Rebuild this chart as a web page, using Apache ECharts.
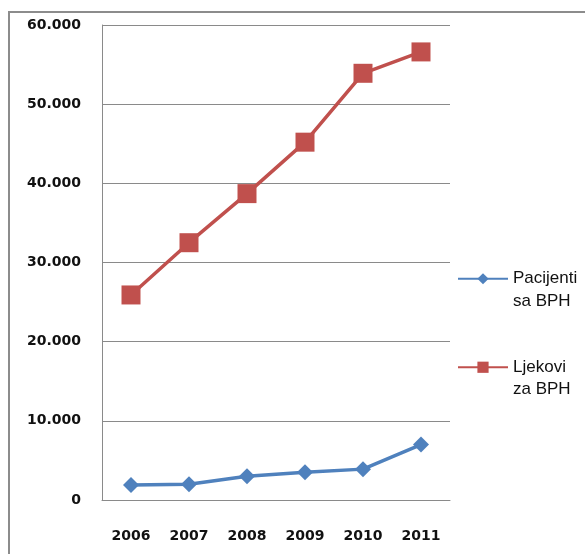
<!DOCTYPE html>
<html>
<head>
<meta charset="utf-8">
<script src="https://cdn.jsdelivr.net/npm/echarts@6/dist/echarts.min.js"></script>
<style>
  html, body { margin: 0; padding: 0; background: #fff; }
  #chart { width: 585px; height: 554px; }
</style>
</head>
<body>
<div id="chart"></div>
<script>
// Years on the category axis
const years = ['2006', '2007', '2008', '2009', '2010', '2011'];
// Patients with BPH
const pacijenti = [1900, 2000, 3000, 3500, 3900, 7000];
// Medication packages for BPH
const ljekovi = [25900, 32500, 38700, 45200, 53900, 56600];
// Value axis range
const yMin = 0, yMax = 60000, yStep = 10000;

const chart = echarts.init(document.getElementById('chart'), null, { renderer: 'canvas' });

const fmtThousands = v => v === 0 ? '0' : String(v).replace(/\B(?=(\d{3})+(?!\d))/g, '.');

chart.setOption({
  backgroundColor: '#ffffff',
  animation: false,
  grid: { left: 102, top: 25, right: 135, bottom: 54, containLabel: false },
  xAxis: {
    type: 'category',
    data: years,
    boundaryGap: true,
    axisLine: { show: true, lineStyle: { color: '#8a8a8a', width: 1 } },
    axisTick: { show: false },
    axisLabel: {
      margin: 29,
      color: '#111',
      fontFamily: 'DejaVu Sans',
      fontWeight: 'bold',
      fontSize: 14
    },
    splitLine: { show: false }
  },
  yAxis: {
    type: 'value',
    min: yMin,
    max: yMax,
    interval: yStep,
    axisLine: { show: true, lineStyle: { color: '#8a8a8a', width: 1 } },
    axisTick: { show: false },
    axisLabel: {
      margin: 21,
      color: '#111',
      fontFamily: 'DejaVu Sans',
      fontWeight: 'bold',
      fontSize: 14,
      formatter: fmtThousands
    },
    splitLine: { show: true, lineStyle: { color: '#8a8a8a', width: 1 } }
  },
  legend: {
    orient: 'vertical',
    left: 457,
    top: 245,
    padding: 0,
    itemWidth: 50,
    itemHeight: 14,
    itemGap: 21,
    textStyle: {
      fontFamily: 'Liberation Sans',
      fontSize: 17,
      color: '#111',
      lineHeight: 22.5
    },
    // a blank first line keeps the marker level with the first text line
    formatter: name => ' \n' + name
  },
  series: [
    {
      name: 'Pacijenti\nsa BPH',
      type: 'line',
      data: pacijenti,
      symbol: 'diamond',
      symbolSize: 16,
      lineStyle: { color: '#4F81BD', width: 3.5 },
      itemStyle: { color: '#4F81BD' }
    },
    {
      name: 'Ljekovi\nza BPH',
      type: 'line',
      data: ljekovi,
      symbol: 'rect',
      symbolSize: 19,
      lineStyle: { color: '#C0504D', width: 3.5 },
      itemStyle: { color: '#C0504D' }
    }
  ],
  graphic: [
    {
      type: 'polyline',
      shape: { points: [[9, 554], [9, 12], [585, 12]] },
      style: { stroke: '#8c8c8c', lineWidth: 2, fill: null },
      silent: true
    }
  ]
});
</script>
</body>
</html>
